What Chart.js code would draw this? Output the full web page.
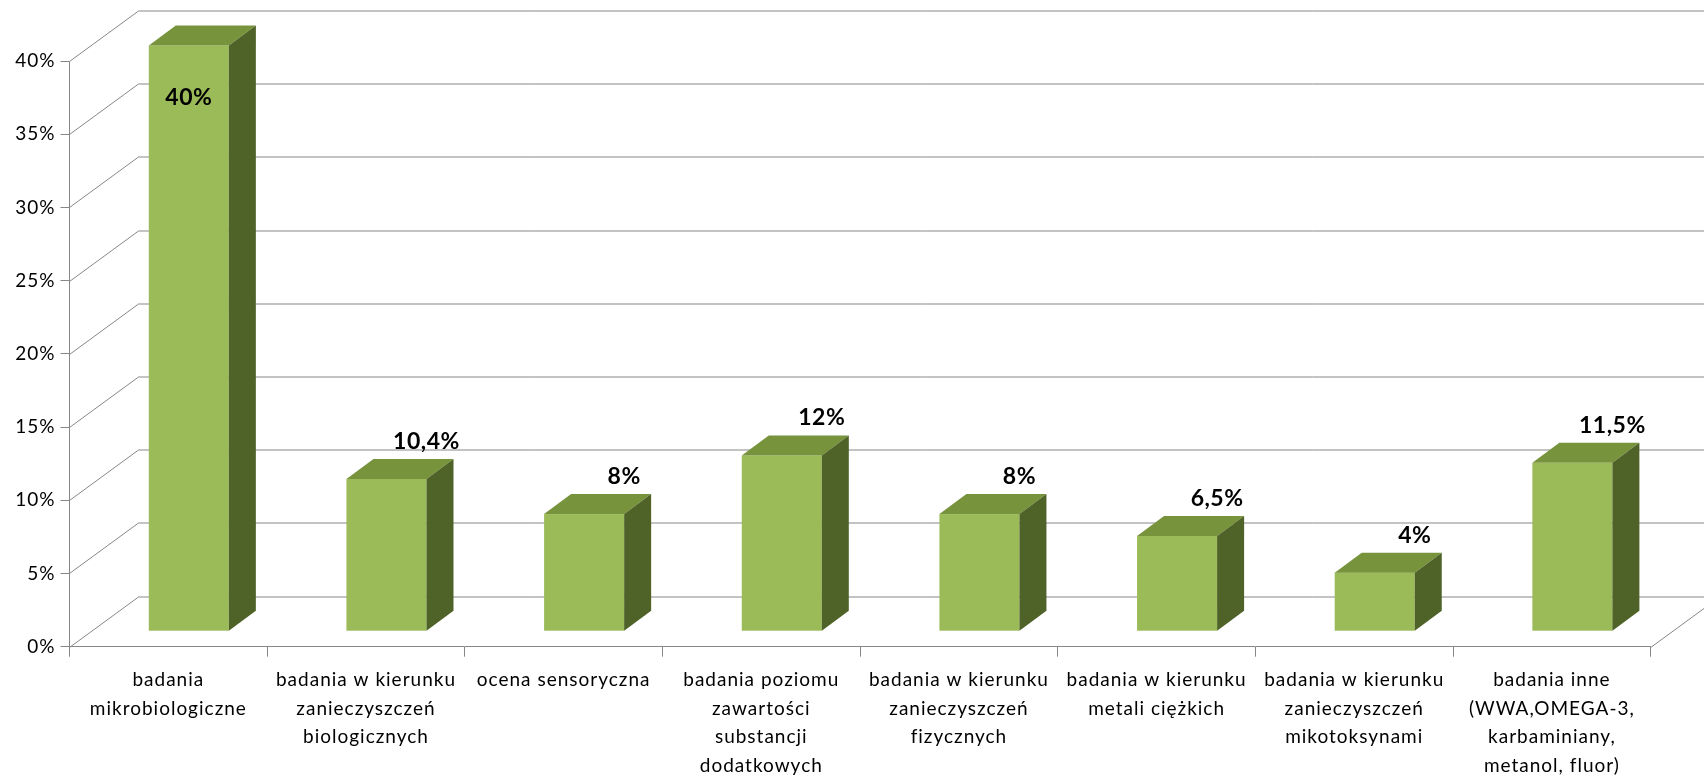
<!DOCTYPE html>
<html>
<head>
<meta charset="utf-8">
<script src="https://cdn.jsdelivr.net/npm/chart.js@4/dist/chart.umd.min.js"></script>
<style>
html,body{margin:0;padding:0;background:#fff;overflow:hidden}
#wrap{width:1704px;height:779px;position:relative}
</style>
</head>
<body>
<div id="wrap"><canvas id="c" width="1704" height="779"></canvas></div>
<script>
const categories = [
  ["badania", "mikrobiologiczne"],
  ["badania w kierunku", "zanieczyszczeń", "biologicznych"],
  ["ocena sensoryczna"],
  ["badania poziomu", "zawartości", "substancji", "dodatkowych"],
  ["badania w kierunku", "zanieczyszczeń", "fizycznych"],
  ["badania w kierunku", "metali ciężkich"],
  ["badania w kierunku", "zanieczyszczeń", "mikotoksynami"],
  ["badania inne", "(WWA,OMEGA-3,", "karbaminiany,", "metanol, fluor)"]
];
const values = [40, 10.4, 8, 12, 8, 6.5, 4, 11.5];
const valueLabels = ["40%", "10,4%", "8%", "12%", "8%", "6,5%", "4%", "11,5%"];
const yMin = 0;
const yMax = 40;
const yStep = 5;

// 3D look (oblique projection)
const BACK_DX = 69, BACK_DY = -50.5;
const FRONT_DX = 20.5, FRONT_DY = -15.5;
const BAR_DX = 27, BAR_DY = -20;
const GRID = '#878787';
const C_FRONT = '#9BBB59', C_TOP = '#77933C', C_SIDE = '#4F6228';
const FONT = 'Lato';

const wall3d = {
  id: 'wall3d',
  beforeDraw(chart) {
    chart.ctx.letterSpacing = '1px';
  },
  beforeDatasetsDraw(chart) {
    const {ctx, chartArea: a, scales: {y}} = chart;
    ctx.save();
    ctx.strokeStyle = GRID;
    ctx.lineWidth = 1;
    for (const t of y.ticks) {
      const yf = Math.round(y.getPixelForValue(t.value)) + 0.5;
      ctx.beginPath();
      ctx.moveTo(a.left, yf);
      ctx.lineTo(a.left + BACK_DX, yf + BACK_DY);
      ctx.lineTo(chart.width, yf + BACK_DY);
      ctx.stroke();
    }
    const y0 = Math.round(y.getPixelForValue(0)) + 0.5;
    ctx.beginPath();
    ctx.moveTo(a.right, y0);
    ctx.lineTo(a.right + BACK_DX, y0 + BACK_DY);
    ctx.stroke();
    ctx.restore();
  },
  afterDatasetsDraw(chart) {
    const {ctx} = chart;
    const meta = chart.getDatasetMeta(0);
    ctx.save();
    meta.data.forEach((el) => {
      const left = el.x - el.width / 2 + FRONT_DX;
      const right = el.x + el.width / 2 + FRONT_DX;
      const top = el.y + FRONT_DY;
      const bottom = el.base + FRONT_DY;
      ctx.fillStyle = C_FRONT;
      ctx.fillRect(left, top, right - left, bottom - top);
      ctx.fillStyle = C_TOP;
      ctx.beginPath();
      ctx.moveTo(left, top);
      ctx.lineTo(right, top);
      ctx.lineTo(right + BAR_DX, top + BAR_DY);
      ctx.lineTo(left + BAR_DX, top + BAR_DY);
      ctx.closePath();
      ctx.fill();
      ctx.fillStyle = C_SIDE;
      ctx.beginPath();
      ctx.moveTo(right, top);
      ctx.lineTo(right + BAR_DX, top + BAR_DY);
      ctx.lineTo(right + BAR_DX, bottom + BAR_DY);
      ctx.lineTo(right, bottom);
      ctx.closePath();
      ctx.fill();
    });
    ctx.font = 'bold 23px ' + FONT;
    ctx.fillStyle = '#000';
    ctx.textAlign = 'center';
    ctx.textBaseline = 'middle';
    ctx.letterSpacing = '0.5px';
    meta.data.forEach((el, i) => {
      const left = el.x - el.width / 2 + FRONT_DX;
      const right = el.x + el.width / 2 + FRONT_DX;
      const top = el.y + FRONT_DY;
      let lx = right, ly = top + BAR_DY - 17.5;
      if (ly < 22) { lx = (left + right) / 2; ly = top + 52; }
      ctx.fillText(valueLabels[i], lx, ly);
    });
    ctx.restore();
  }
};

new Chart(document.getElementById('c'), {
  type: 'bar',
  data: {
    labels: categories,
    datasets: [{
      data: values,
      backgroundColor: 'rgba(0,0,0,0)',
      borderWidth: 0,
      categoryPercentage: 1,
      barPercentage: 0.405
    }]
  },
  options: {
    responsive: false,
    animation: false,
    devicePixelRatio: 1,
    layout: {padding: {top: 61, right: 53.3, left: 0, bottom: 0}},
    plugins: {legend: {display: false}, tooltip: {enabled: false}},
    scales: {
      x: {
        offset: true,
        grid: {offset: true, drawOnChartArea: false, drawTicks: true, tickLength: 10, color: GRID},
        border: {display: true, color: GRID},
        ticks: {
          color: '#000', maxRotation: 0, minRotation: 0, autoSkip: false, padding: 9,
          font: {family: FONT, size: 19, lineHeight: 1.5}
        },
        afterFit(s) { s.height = 132.3; }
      },
      y: {
        min: yMin, max: yMax,
        grid: {drawOnChartArea: false, drawTicks: true, tickLength: 9, color: GRID},
        border: {display: true, color: GRID},
        ticks: {
          stepSize: yStep, color: '#000', padding: 5,
          font: {family: FONT, size: 19},
          callback: (v) => v + '%'
        },
        afterFit(s) { s.width = 69.5; }
      }
    }
  },
  plugins: [wall3d]
});
</script>
</body>
</html>
